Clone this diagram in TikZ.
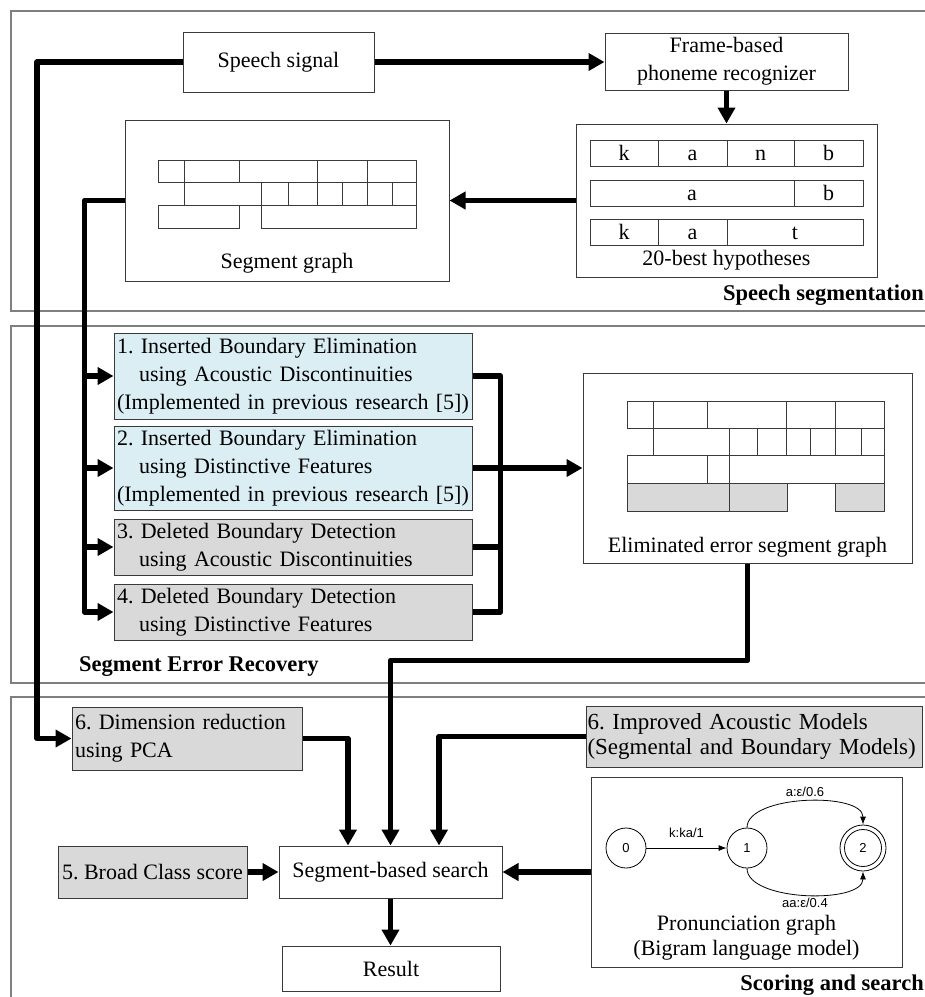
\documentclass[tikz,border=0pt]{standalone}
\usepackage{fontspec}
\setmainfont{Liberation Serif}
\newfontfamily\autfont{Liberation Sans}
\usetikzlibrary{arrows.meta,positioning,calc}
\definecolor{boxblue}{HTML}{DAEEF3}
\definecolor{boxgray}{HTML}{D9D9D9}
\definecolor{framegray}{HTML}{7F7F7F}
\definecolor{edgegray}{HTML}{3A3A3A}
\frenchspacing
\hyphenpenalty=10000

\tikzset{
  secframe/.style={draw=framegray, line width=1.2pt},
  plainbox/.style={draw=edgegray, line width=1pt, fill=white, inner sep=0pt, align=center},
  stepbox/.style={draw=edgegray, line width=1pt, inner xsep=3pt, inner ysep=0pt, align=left},
  cell/.style={draw=edgegray, line width=0.9pt},
  phone/.style={anchor=base, inner sep=0pt},
  flow/.style={line width=5.5pt, line join=round, -{Triangle[length=16pt,width=17pt]}},
  wire/.style={line width=5.5pt, line join=round},
  fsmstate/.style={circle, draw=black, line width=0.8pt, minimum size=40pt, inner sep=0pt,
    font=\autfont\fontsize{13}{15}\selectfont},
  trans/.style={line width=0.8pt, -{Latex[length=8pt,width=6pt]}},
  translabel/.style={font=\autfont\fontsize{13}{15}\selectfont, inner sep=1pt},
  sectionlabel/.style={font=\bfseries\fontsize{22.5}{27}\selectfont, inner sep=0pt}
}

\begin{document}
\begin{tikzpicture}[x=1pt, y=-1pt, font=\fontsize{22}{28}\selectfont]
  \useasboundingbox (0,0) rectangle (925,997);

  % section frames
  \draw[secframe] (11,11) rectangle (940,311);
  \draw[secframe] (11,326) rectangle (940,683);
  \draw[secframe] (11,697) rectangle (940,1010);

  % speech segmentation
  \node[plainbox, minimum width=191pt, minimum height=60pt] (speech) at (278.5,62) {Speech signal};
  \node[plainbox, minimum width=243pt, minimum height=57pt] (recog) at (726.5,61.5)
    {Frame-based\\phoneme recognizer};
  \node[plainbox, minimum width=301pt, minimum height=153pt] (best) at (726.5,200.5) {};
  \node (bestcap) at (726.5,260) {20-best hypotheses};
  \foreach \xa/\xb/\ph in {590/658/k, 658/727/a, 727/794/n, 794/863/b}{
    \draw[cell] (\xa,140) rectangle (\xb,166);
    \node[phone] at ({(\xa+\xb)/2},160) {\ph};
  }
  \foreach \xa/\xb/\ph in {590/794/a, 794/863/b}{
    \draw[cell] (\xa,180) rectangle (\xb,206);
    \node[phone] at ({(\xa+\xb)/2},200) {\ph};
  }
  \foreach \xa/\xb/\ph in {590/658/k, 658/727/a, 727/863/t}{
    \draw[cell] (\xa,219) rectangle (\xb,245);
    \node[phone] at ({(\xa+\xb)/2},239) {\ph};
  }

  \node[plainbox, minimum width=324pt, minimum height=161pt] (seggraph) at (287,200.5) {};
  \node (seggraphcap) at (287,263) {Segment graph};
  \foreach \xa/\xb in {158/184, 184/239, 239/317, 317/367, 367/416}
    \draw[cell] (\xa,160) rectangle (\xb,182);
  \foreach \xa/\xb in {184/261, 261/288, 288/317, 317/342, 342/367, 367/392, 392/416}
    \draw[cell] (\xa,182) rectangle (\xb,205);
  \foreach \xa/\xb in {158/239, 261/416}
    \draw[cell] (\xa,205) rectangle (\xb,228);

  \node[sectionlabel, anchor=base east] (seglabel) at (924,300) {Speech segmentation};

  % segment error recovery
  \node[stepbox, fill=boxblue, text width=352pt, minimum height=86pt] (box1) at (293,376)
    {1. Inserted Boundary Elimination\\\hspace*{22pt}using Acoustic Discontinuities\\(Implemented in previous research [5])};
  \node[stepbox, fill=boxblue, text width=352pt, minimum height=84pt] (box2) at (293,468)
    {2. Inserted Boundary Elimination\\\hspace*{22pt}using Distinctive Features\\(Implemented in previous research [5])};
  \node[stepbox, fill=boxgray, text width=352pt, minimum height=56pt] (box3) at (293,547)
    {3. Deleted Boundary Detection\\\hspace*{22pt}using Acoustic Discontinuities};
  \node[stepbox, fill=boxgray, text width=352pt, minimum height=56pt] (box4) at (293,612)
    {4. Deleted Boundary Detection\\\hspace*{22pt}using Distinctive Features};

  \node[plainbox, minimum width=329pt, minimum height=190pt] (elim) at (747.5,468) {};
  \node (elimcap) at (747.5,547) {Eliminated error segment graph};
  \foreach \xa/\xb in {627/653, 653/707, 707/786, 786/835, 835/884}
    \draw[cell] (\xa,401) rectangle (\xb,428);
  \foreach \xa/\xb in {653/729, 729/757, 757/786, 786/810, 810/835, 835/861, 861/884}
    \draw[cell] (\xa,428) rectangle (\xb,455);
  \foreach \xa/\xb in {627/707, 707/729, 729/884}
    \draw[cell] (\xa,455) rectangle (\xb,483);
  \foreach \xa/\xb in {627/729, 729/787, 835/884}
    \draw[cell, fill=boxgray] (\xa,483) rectangle (\xb,511);

  \node[sectionlabel, anchor=base west] (errlabel) at (79,671) {Segment Error Recovery};

  % scoring and search
  \node[stepbox, fill=boxgray, text width=224pt, minimum height=63pt] (dim) at (187,738.5)
    {6. Dimension reduction\\using PCA};
  \node[stepbox, fill=boxgray, inner xsep=1.5pt, text width=333pt, minimum height=61pt,
    font=\fontsize{23}{25}\selectfont] (improved) at (754,736.5)
    {6. Improved Acoustic Models\\(Segmental and Boundary Models)};
  \node[plainbox, minimum width=223pt, minimum height=52pt] (search) at (390.5,872) {Segment-based search};
  \node[stepbox, fill=boxgray, inner xsep=0pt, align=center, minimum width=189pt, minimum height=52pt]
    (broad) at (152.5,872) {5. Broad Class score};
  \node[plainbox, minimum width=218pt, minimum height=45pt] (result) at (391,968.5) {Result};
  \node[plainbox, minimum width=311pt, minimum height=190pt] (pron) at (746.5,872) {};
  \node[font=\fontsize{22}{25}\selectfont, align=center] (proncap) at (746.5,938)
    {Pronunciation graph\\(Bigram language model)};

  % pronunciation automaton
  \node[fsmstate] (s0) at (626,848) {0};
  \node[fsmstate] (s1) at (747,848) {1};
  \node[fsmstate, minimum size=46pt] (s2) at (863,848) {2};
  \draw[line width=0.8pt] (s2.center) circle[radius=18.5pt];
  \draw[trans] (s0) -- node[translabel, above=9pt] {k:ka/1} (s1);
  \draw[trans] (s1.north) .. controls +(0,-33) and +(0,-33) .. node[translabel, above=3pt] {a:ε/0.6} (s2.north);
  \draw[trans] (s1.south) .. controls +(0,33) and +(0,33) .. node[translabel, below=2pt] {aa:ε/0.4} (s2.south);

  \node[sectionlabel, anchor=base east] (scorelabel) at (924,990) {Scoring and search};

  % thick connectors
  \draw[flow] (speech.east) -- (speech.east -| recog.west);
  \draw[flow] (recog.south) -- (best.north);
  \draw[flow] (best.west) -- (seggraph.east);
  \draw[flow] (speech.west) -- (37,62) |- (dim.west);
  \draw[flow] (seggraph.west) -| ($(box4.west)+(-29,0)$) -- (box4.west);
  \foreach \b in {box1,box2,box3}
    \draw[flow] ($(\b.west)+(-29,0)$) -- (\b.west);
  \draw[wire] (box1.east) -| ($(box4.east)+(28,0)$) -- (box4.east);
  \draw[wire] (box3.east) -- ++(28,0);
  \draw[flow] (box2.east) -- (elim.west);
  \draw[flow] (elim.south) -- ++(0,97) -| (search.north);
  \draw[flow] (dim.east) -| ($(search.north)+(-42.5,0)$);
  \draw[flow] (improved.west) -| ($(search.north)+(48.5,0)$);
  \draw[flow] (broad.east) -- (search.west);
  \draw[flow] (search.south) -- (search.south |- result.north);
  \draw[flow] (pron.west) -- (search.east);
\end{tikzpicture}
\end{document}
